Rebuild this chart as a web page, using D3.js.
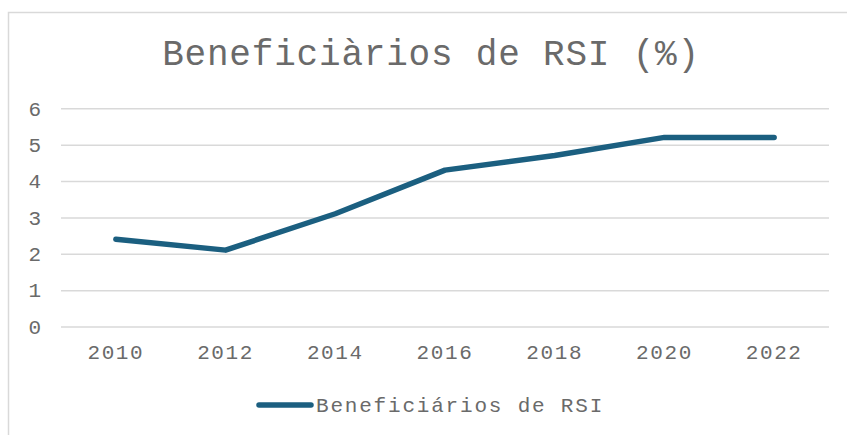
<!DOCTYPE html>
<html><head><meta charset="utf-8">
<script src="https://cdn.jsdelivr.net/npm/d3@7"></script>
<style>
html,body{margin:0;padding:0;background:#fff;}
svg{display:block;font-family:"Liberation Mono","Courier New",monospace;}
</style></head>
<body><svg id="c" width="847" height="435"></svg>
<script>
const title = "Beneficiàrios de RSI (%)";
const seriesName = "Beneficiários de RSI";
const years = ["2010","2012","2014","2016","2018","2020","2022"];
const values = [2.4, 2.1, 3.1, 4.3, 4.7, 5.2, 5.2];
const yTicks = [0,1,2,3,4,5,6];

const svg = d3.select("#c");
const textColor = "#6a6a6a";
const lineColor = "#1b5f80";
const gridColor = "#d9d9d9";

// chart border
svg.append("rect").attr("x",8.5).attr("y",12.5).attr("width",900).attr("height",500)
  .attr("fill","none").attr("stroke",gridColor).attr("stroke-width",1.5);

const x = d3.scaleBand().domain(years).range([61,829]);
const y = d3.scaleLinear().domain([0,6]).range([326.5,108.3]);

// title
svg.append("text").attr("x",431).attr("y",65).attr("text-anchor","middle")
  .attr("font-size",36).attr("letter-spacing",0.8).attr("fill",textColor).text(title);

// grid
const yAxis = d3.axisLeft(y).tickValues(yTicks).tickSize(-(829-61)).tickPadding(20).tickFormat(d3.format("d"));
const gy = svg.append("g").attr("transform","translate(61,0)").call(yAxis);
gy.select(".domain").remove();
gy.selectAll(".tick line").attr("stroke",gridColor).attr("stroke-width",1.5);
gy.selectAll(".tick text").attr("fill",textColor).attr("font-size",21).attr("font-family","Liberation Mono");

const xAxis = d3.axisBottom(x).tickSize(0).tickPadding(18);
const gx = svg.append("g").attr("transform","translate(0,326.5)").call(xAxis);
gx.select(".domain").remove();
gx.selectAll(".tick text").attr("fill",textColor).attr("font-size",21).attr("letter-spacing",1.6).attr("font-family","Liberation Mono");

// line
const line = d3.line().x((d,i)=>x(years[i])+x.bandwidth()/2).y(d=>y(d));
svg.append("path").datum(values).attr("d",line).attr("fill","none")
  .attr("stroke",lineColor).attr("stroke-width",5.5).attr("stroke-linecap","round").attr("stroke-linejoin","round");

// legend
svg.append("line").attr("x1",259).attr("x2",311).attr("y1",405).attr("y2",405)
  .attr("stroke",lineColor).attr("stroke-width",5.5).attr("stroke-linecap","round");
svg.append("text").attr("x",316).attr("y",412).attr("font-size",21).attr("letter-spacing",1.8)
  .attr("fill",textColor).text(seriesName);
</script></body></html>
